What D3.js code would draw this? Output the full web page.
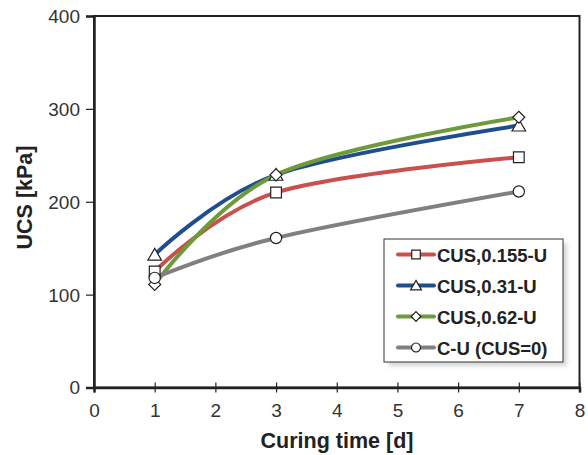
<!DOCTYPE html>
<html>
<head>
<meta charset="utf-8">
<script src="https://cdn.jsdelivr.net/npm/d3@7"></script>
<style>
  html, body { margin: 0; padding: 0; background: #fff; }
  svg { display: block; font-family: "Liberation Sans", Arial, sans-serif; }
</style>
</head>
<body>
<svg id="chart" width="588" height="455"></svg>
<script>
// Curing time in days
const days = [1, 3, 7];

// UCS [kPa] for each mix
const cus0155 = [125, 210, 248];
const cus031 = [143, 229, 282];
const cus062 = [111, 229, 291];
const cuControl = [118, 161, 211];

const seriesNames = ["CUS,0.155-U", "CUS,0.31-U", "CUS,0.62-U", "C-U (CUS=0)"];
const seriesColors = ["#c9504d", "#1f4e8e", "#6e9a3a", "#808080"];
const seriesMarkers = ["square", "triangle", "diamond", "circle"];

const xTicks = [0, 1, 2, 3, 4, 5, 6, 7, 8];
const yTicks = [0, 100, 200, 300, 400];

const svg = d3.select("#chart");
const plotLeft = 94, plotRight = 579.5, plotTop = 16, plotBottom = 387.5;

const x = d3.scaleLinear().domain([0, 8]).range([plotLeft, plotRight]);
const y = d3.scaleLinear().domain([0, 400]).range([plotBottom, plotTop]);

const seriesData = [cus0155, cus031, cus062, cuControl].map((vals, i) => ({
  name: seriesNames[i],
  color: seriesColors[i],
  marker: seriesMarkers[i],
  points: days.map((d, j) => ({ x: d, y: vals[j] }))
}));

// Plot frame
svg.append("rect")
  .attr("x", plotLeft).attr("y", plotTop)
  .attr("width", plotRight - plotLeft).attr("height", plotBottom - plotTop)
  .attr("fill", "none").attr("stroke", "#222").attr("stroke-width", 2);

// Axes
const xAxis = svg.append("g")
  .attr("transform", `translate(0,${plotBottom})`)
  .call(d3.axisBottom(x).tickValues(xTicks).tickSize(5).tickPadding(11).tickFormat(d3.format("d")));
xAxis.select(".domain").attr("stroke", "#222").attr("stroke-width", 2.5);
xAxis.selectAll(".tick line").attr("stroke", "#222").attr("stroke-width", 1.2).attr("y1", -5);
xAxis.selectAll(".tick text").attr("font-size", 19).attr("fill", "#333");

const yAxis = svg.append("g")
  .attr("transform", `translate(${plotLeft},0)`)
  .call(d3.axisLeft(y).tickValues(yTicks).tickSize(8).tickPadding(6).tickFormat(d3.format("d")));
yAxis.select(".domain").attr("stroke", "#222").attr("stroke-width", 2.5);
yAxis.selectAll(".tick line").attr("stroke", "#222").attr("stroke-width", 1.2);
yAxis.selectAll(".tick text").attr("font-size", 19).attr("fill", "#333").attr("dy", "0.34em");

// Axis titles
svg.append("text")
  .attr("x", 337).attr("y", 448)
  .attr("text-anchor", "middle").attr("font-size", 21.5).attr("font-weight", "bold").attr("fill", "#222")
  .text("Curing time [d]");
svg.append("text")
  .attr("transform", `translate(32,197.5) rotate(-90)`)
  .attr("text-anchor", "middle").attr("font-size", 21.5).attr("font-weight", "bold").attr("fill", "#222")
  .text("UCS [kPa]");

// Smoothed curves
const line = d3.line()
  .x(d => x(d.x)).y(d => y(d.y))
  .curve(d3.curveCardinal.tension(0));

const plot = svg.append("g");
seriesData.forEach(s => {
  plot.append("path")
    .attr("d", line(s.points))
    .attr("fill", "none")
    .attr("stroke", s.color)
    .attr("stroke-width", 4)
    .attr("stroke-linecap", "round");
});

// Square-on-point diamond, as wide as it is tall
const diamond45 = {
  draw(context, size) {
    const r = Math.sqrt(size / 2);
    context.moveTo(0, -r);
    context.lineTo(r, 0);
    context.lineTo(0, r);
    context.lineTo(-r, 0);
    context.closePath();
  }
};

const symbolTypes = {
  square: d3.symbolSquare,
  triangle: d3.symbolTriangle,
  diamond: diamond45,
  circle: d3.symbolCircle
};
const symbolSizes = { square: 115, triangle: 80, diamond: 72, circle: 100 };

function drawMarker(g, type, cx, cy, scale) {
  const k = scale || 1;
  g.append("path")
    .attr("d", d3.symbol().type(symbolTypes[type]).size(symbolSizes[type] * k * k)())
    .attr("transform", `translate(${cx},${cy + (type === "triangle" ? 1.5 * k : 0)})`)
    .attr("fill", "#fff")
    .attr("stroke", "#222")
    .attr("stroke-width", 1.2);
}

seriesData.forEach(s => {
  s.points.forEach(p => drawMarker(plot, s.marker, x(p.x), y(p.y)));
});

// Legend
const lg = svg.append("g");
const lx = 384, ly = 239, lw = 179, lh = 123;
lg.append("rect")
  .attr("x", lx + 4).attr("y", ly + 4).attr("width", lw).attr("height", lh)
  .attr("fill", "#bbb").attr("opacity", 0.6)
  .style("filter", "blur(2px)");
lg.append("rect")
  .attr("x", lx).attr("y", ly).attr("width", lw).attr("height", lh)
  .attr("fill", "#fff").attr("stroke", "#333").attr("stroke-width", 1);

seriesData.forEach((s, i) => {
  const ry = 254.5 + i * 31;
  lg.append("line")
    .attr("x1", 398).attr("x2", 434).attr("y1", ry).attr("y2", ry)
    .attr("stroke", s.color).attr("stroke-width", 4).attr("stroke-linecap", "round");
  drawMarker(lg, s.marker, 416, ry, 0.8);
  lg.append("text")
    .attr("x", 437).attr("y", ry + 7.5)
    .attr("font-size", 18.5).attr("font-weight", "bold").attr("fill", "#222")
    .text(s.name);
});
</script>
</body>
</html>
